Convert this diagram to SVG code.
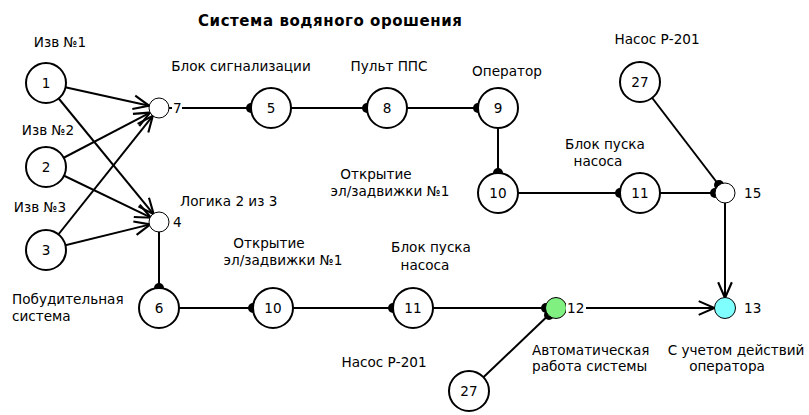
<svg xmlns="http://www.w3.org/2000/svg" width="809" height="415" viewBox="0 0 809 415">
  <style>
    text { font-family: "DejaVu Sans", "Liberation Sans", sans-serif; font-size: 13.6px; fill: #000; }
    .title { font-weight: bold; font-size: 15px; }
    .mid { text-anchor: middle; }
    .node { fill: #fff; stroke: #000; stroke-width: 2; }
    .small { stroke-width: 1; }
    .edge { stroke: #000; stroke-width: 2; fill: none; }
    .dot { fill: #000; }
    .bg { fill: #fff; }
  </style>
  <defs>
    <marker id="vee" markerUnits="userSpaceOnUse" markerWidth="20" markerHeight="20" viewBox="-17 -8 19 16" refX="0" refY="0" orient="auto">
      <path d="M -15 -6.5 L 0 0 L -15 6.5" fill="none" stroke="#000" stroke-width="2"/>
    </marker>
  </defs>

  <rect width="809" height="415" fill="#fff"/>

  <text class="title" x="198" y="26" textLength="264" lengthAdjust="spacing">Система водяного орошения</text>

  <!-- connectors -->
  <g id="connectors">
    <!-- detectors to alarm unit 7 -->
    <line class="edge" x1="46" y1="83" x2="149.2" y2="105.8" marker-end="url(#vee)"/>
    <line class="edge" x1="46" y1="167" x2="150.1" y2="112.6" marker-end="url(#vee)"/>
    <line class="edge" x1="46" y1="250" x2="152.8" y2="115.8" marker-end="url(#vee)"/>
    <!-- detectors to 2-of-3 logic 4 -->
    <line class="edge" x1="46" y1="83" x2="153.7" y2="214.3" marker-end="url(#vee)"/>
    <line class="edge" x1="46" y1="167" x2="151" y2="217.7" marker-end="url(#vee)"/>
    <line class="edge" x1="46" y1="250" x2="150.3" y2="224.4" marker-end="url(#vee)"/>

    <!-- operator branch -->
    <line class="edge" x1="159" y1="108" x2="271" y2="108"/>
    <circle class="dot" cx="251" cy="108" r="5"/>
    <line class="edge" x1="271" y1="108" x2="387" y2="108"/>
    <circle class="dot" cx="367" cy="108" r="5"/>
    <line class="edge" x1="387" y1="108" x2="498" y2="108"/>
    <circle class="dot" cx="478" cy="108" r="5"/>
    <line class="edge" x1="498" y1="108" x2="498" y2="193"/>
    <circle class="dot" cx="498" cy="173" r="5"/>
    <line class="edge" x1="498" y1="193" x2="640" y2="193"/>
    <circle class="dot" cx="620" cy="193" r="5"/>
    <line class="edge" x1="640" y1="193" x2="725" y2="193"/>
    <circle class="dot" cx="715" cy="193" r="5"/>
    <line class="edge" x1="640" y1="82" x2="725" y2="193"/>
    <circle class="dot" cx="719" cy="185" r="5"/>
    <line class="edge" x1="725" y1="193" x2="725" y2="298" marker-end="url(#vee)"/>

    <!-- automatic branch -->
    <line class="edge" x1="159" y1="222" x2="159" y2="308"/>
    <circle class="dot" cx="159" cy="288" r="5"/>
    <line class="edge" x1="159" y1="308" x2="273" y2="308"/>
    <circle class="dot" cx="253" cy="308" r="5"/>
    <line class="edge" x1="273" y1="308" x2="413" y2="308"/>
    <circle class="dot" cx="393" cy="308" r="5"/>
    <line class="edge" x1="413" y1="308" x2="556" y2="308"/>
    <circle class="dot" cx="546" cy="308" r="5"/>
    <line class="edge" x1="469" y1="391" x2="556" y2="308"/>
    <circle class="dot" cx="549" cy="315" r="5"/>
    <line class="edge" x1="556" y1="308" x2="714.5" y2="308" marker-end="url(#vee)"/>
  </g>

  <!-- nodes -->
  <g id="n1"><circle class="node" cx="46" cy="83" r="20"/><text class="mid" x="46" y="88">1</text><text class="mid" x="60" y="47">Изв №1</text></g>
  <g id="n2"><circle class="node" cx="46" cy="167" r="20"/><text class="mid" x="46" y="172">2</text><text class="mid" x="48" y="135">Изв №2</text></g>
  <g id="n3"><circle class="node" cx="46" cy="250" r="20"/><text class="mid" x="46" y="255">3</text><text class="mid" x="40" y="212">Изв №3</text></g>

  <g id="n7"><circle class="node small" cx="159" cy="108" r="10"/><rect class="bg" x="172" y="100" width="10" height="15"/><text x="173" y="113">7</text></g>
  <g id="n4"><circle class="node small" cx="159" cy="222" r="10"/><text x="173" y="227">4</text><text x="180" y="206">Логика 2 из 3</text></g>

  <g id="n5"><circle class="node" cx="271" cy="108" r="20"/><text class="mid" x="271" y="113">5</text><text class="mid" x="241" y="71">Блок сигнализации</text></g>
  <g id="n8"><circle class="node" cx="387" cy="108" r="20"/><text class="mid" x="387" y="113">8</text><text class="mid" x="389" y="71">Пульт ППС</text></g>
  <g id="n9"><circle class="node" cx="498" cy="108" r="20"/><text class="mid" x="498" y="113">9</text><text class="mid" x="507" y="76">Оператор</text></g>
  <g id="n10a"><circle class="node" cx="498" cy="193" r="20"/><text class="mid" x="498" y="198">10</text><text class="mid" x="376" y="179">Открытие</text><text class="mid" x="390" y="196">эл/задвижки №1</text></g>
  <g id="n11a"><circle class="node" cx="640" cy="193" r="20"/><text class="mid" x="640" y="198">11</text><text class="mid" x="605" y="149">Блок пуска</text><text class="mid" x="598" y="166">насоса</text></g>
  <g id="n27a"><circle class="node" cx="640" cy="82" r="20"/><text class="mid" x="640" y="87">27</text><text class="mid" x="657" y="44">Насос Р-201</text></g>
  <g id="n15"><circle class="node small" cx="725" cy="193" r="10"/><text x="744" y="198">15</text></g>

  <g id="n6"><circle class="node" cx="159" cy="308" r="20"/><text class="mid" x="159" y="313">6</text><text x="12" y="304">Побудительная</text><text x="12" y="321">система</text></g>
  <g id="n10b"><circle class="node" cx="273" cy="308" r="20"/><text class="mid" x="273" y="313">10</text><text class="mid" x="269" y="248">Открытие</text><text class="mid" x="283" y="265">эл/задвижки №1</text></g>
  <g id="n11b"><circle class="node" cx="413" cy="308" r="20"/><text class="mid" x="413" y="313">11</text><text class="mid" x="431" y="252">Блок пуска</text><text class="mid" x="425" y="270">насоса</text></g>
  <g id="n27b"><circle class="node" cx="469" cy="391" r="20"/><text class="mid" x="469" y="396">27</text><text class="mid" x="384" y="367">Насос Р-201</text></g>
  <g id="n12"><circle class="node small" cx="556" cy="308" r="10.5" style="fill:#80f080"/><rect class="bg" x="566" y="300" width="20" height="15"/><text x="567" y="313">12</text><text x="532" y="355">Автоматическая</text><text x="532" y="371">работа системы</text></g>
  <g id="n13"><circle class="node small" cx="725" cy="308" r="10.5" style="fill:#80ffff"/><text x="744" y="313">13</text><text class="mid" x="736" y="355">С учетом действий</text><text class="mid" x="727" y="371">оператора</text></g>
</svg>
